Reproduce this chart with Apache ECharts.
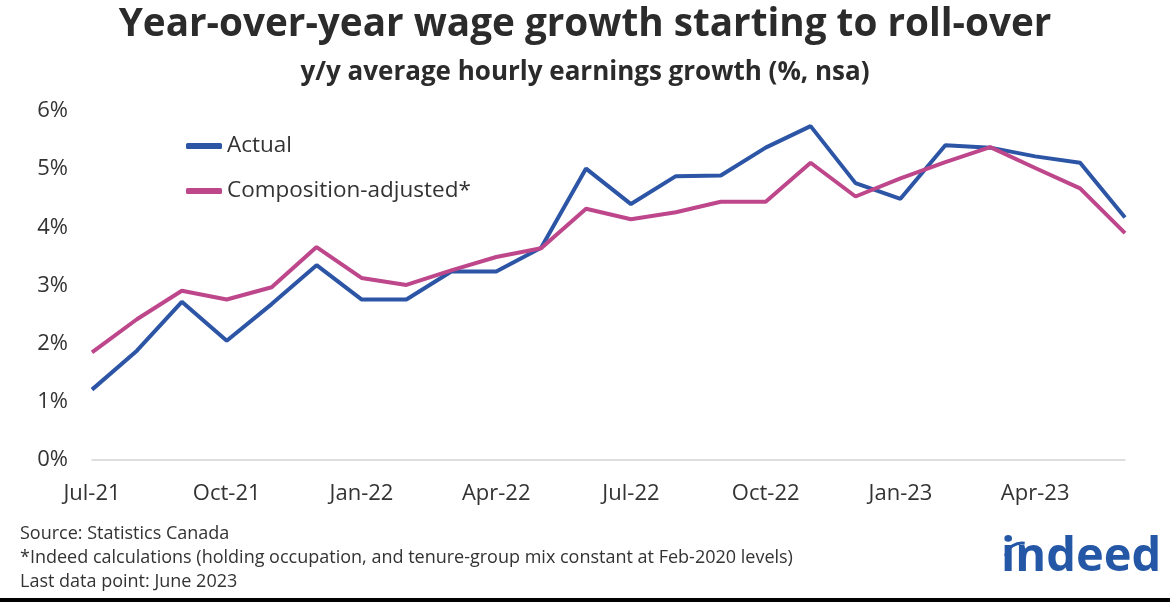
<!DOCTYPE html>
<html>
<head>
<meta charset="utf-8">
<script src="https://cdn.jsdelivr.net/npm/echarts@6/dist/echarts.min.js"></script>
<style>
html,body{margin:0;padding:0;background:#fff;}
#chart{width:1170px;height:602px;}
</style>
</head>
<body>
<div id="chart"></div>
<script>
const months = ['Jul-21','Aug-21','Sep-21','Oct-21','Nov-21','Dec-21','Jan-22','Feb-22','Mar-22','Apr-22','May-22','Jun-22',
                'Jul-22','Aug-22','Sep-22','Oct-22','Nov-22','Dec-22','Jan-23','Feb-23','Mar-23','Apr-23','May-23','Jun-23'];
const actual = [1.21,1.88,2.72,2.05,2.68,3.35,2.76,2.76,3.24,3.24,3.65,5.01,
                4.40,4.88,4.89,5.37,5.74,4.76,4.49,5.41,5.37,5.22,5.11,4.17];
const adjusted = [1.85,2.42,2.91,2.76,2.97,3.66,3.13,3.01,3.26,3.49,3.64,4.32,
                  4.14,4.26,4.44,4.44,5.11,4.53,4.84,5.12,5.38,5.02,4.67,3.90];
const yTicks = [0,1,2,3,4,5,6];
const titleText = 'Year-over-year wage growth starting to roll-over';
const subtitleText = 'y/y average hourly earnings growth (%, nsa)';
const footLines = ['Source: Statistics Canada',
  '*Indeed calculations (holding occupation, and tenure-group mix constant at Feb-2020 levels)',
  'Last data point: June 2023'];

const FONT = '"Open Sans", "Noto Sans", sans-serif';
const chart = echarts.init(document.getElementById('chart'));
chart.setOption({
  backgroundColor: '#fff',
  animation: false,
  title: [
    {text: titleText, left: 'center', top: 0,
     textStyle: {fontFamily: FONT, fontSize: 38.7, fontWeight: 'bold', color: '#2b2b2b'}},
    {text: subtitleText, left: 'center', top: 55,
     textStyle: {fontFamily: FONT, fontSize: 26, fontWeight: 'bold', color: '#2b2b2b'}}
  ],
  legend: {
    orient: 'vertical', left: 181, top: 129,
    icon: 'roundRect', itemWidth: 36, itemHeight: 6, itemGap: 21,
    textStyle: {fontFamily: FONT, fontSize: 22.5, color: '#333', lineHeight: 24},
    data: ['Actual', 'Composition-adjusted*']
  },
  grid: {left: 92, right: 45, top: 111, bottom: 142},
  xAxis: {
    type: 'category', data: months, boundaryGap: false,
    axisLine: {lineStyle: {color: '#d4d4d4', width: 1.5}},
    axisTick: {show: false},
    axisLabel: {interval: 2, margin: 23, fontFamily: FONT, fontSize: 22, color: '#333'}
  },
  yAxis: {
    type: 'value', min: yTicks[0], max: yTicks[yTicks.length-1], interval: 1,
    splitLine: {show: false}, axisLine: {show: false}, axisTick: {show: false},
    axisLabel: {formatter: '{value}%', margin: 24, fontFamily: FONT, fontSize: 22, color: '#333'}
  },
  series: [
    {name: 'Actual', type: 'line', data: actual, symbol: 'none',
     lineStyle: {color: '#2c55a6', width: 4}, itemStyle: {color: '#2c55a6'}},
    {name: 'Composition-adjusted*', type: 'line', data: adjusted, symbol: 'none',
     lineStyle: {color: '#be478b', width: 4}, itemStyle: {color: '#be478b'}}
  ],
  graphic: [
    {type: 'text', left: 20, top: 525, style: {text: footLines[0], font: '18px ' + FONT, fill: '#333'}},
    {type: 'text', left: 20, top: 549, style: {text: footLines[1], font: '18px ' + FONT, fill: '#333'}},
    {type: 'text', left: 20, top: 573, style: {text: footLines[2], font: '18px ' + FONT, fill: '#333'}},
    {type: 'text', left: 1001, top: 534, style: {text: 'indeed', font: 'bold 47px ' + FONT, fill: '#2557a7'}},
    {type: 'arc', shape: {cx: 1022, cy: 560, r: 17, startAngle: Math.PI * 1.08, endAngle: Math.PI * 1.55},
     style: {stroke: '#2557a7', lineWidth: 3, fill: null}},
    {type: 'rect', shape: {x: 0, y: 598, width: 1170, height: 4}, style: {fill: '#000'}}
  ]
});
</script>
</body>
</html>
